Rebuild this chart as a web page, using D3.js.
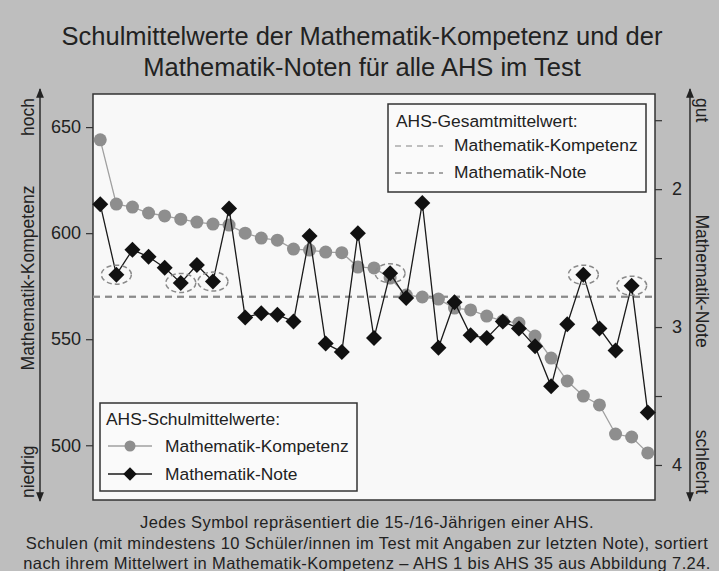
<!DOCTYPE html>
<html>
<head>
<meta charset="utf-8">
<script src="https://cdn.jsdelivr.net/npm/d3@7"></script>
<style>
  html, body { margin: 0; padding: 0; background: #c0c0c0; }
  svg { display: block; font-family: 'Liberation Sans', Arial, sans-serif; }
</style>
</head>
<body>
<div id="chart"></div>
<script>
// Schulmittelwerte je AHS (sortiert nach Mathematik-Kompetenz)
const kompetenz = [
  644, 613.7, 612.3, 609.5, 608.1, 606.6, 605.2, 604.3, 603.8, 600.0,
  597.7, 596.7, 592.5, 592.0, 591.1, 590.8, 584.0, 583.6, 578.8, 570.8,
  569.9, 568.9, 564.7, 563.8, 560.9, 558.6, 557.6, 551.5, 541.1, 530.3,
  523.2, 519.0, 505.3, 503.9, 496.4
];
const note = [
  2.11, 2.62, 2.44, 2.49, 2.57, 2.68, 2.55, 2.67, 2.14, 2.93,
  2.90, 2.91, 2.96, 2.34, 3.12, 3.18, 2.32, 3.08, 2.61, 2.79,
  2.10, 3.15, 2.82, 3.06, 3.08, 2.96, 3.01, 3.14, 3.43, 2.98,
  2.62, 3.01, 3.17, 2.70, 3.62
];
// AHS mit gestrichelter Markierung
const markiert = [2, 6, 8, 19, 31, 34];

const meanKompetenz = 570;
const meanNote = 2.78;

const leftTicks = [500, 550, 600, 650];
const rightTicks = [1.5, 2, 2.5, 3, 3.5, 4];

const titleLines = [
  'Schulmittelwerte der Mathematik-Kompetenz und der',
  'Mathematik-Noten für alle AHS im Test'
];
const footLines = [
  'Jedes Symbol repräsentiert die 15-/16-Jährigen einer AHS.',
  'Schulen (mit mindestens 10 Schüler/innen im Test mit Angaben zur letzten Note), sortiert',
  'nach ihrem Mittelwert in Mathematik-Kompetenz – AHS 1 bis AHS 35 aus Abbildung 7.24.'
];

const width = 719;
const height = 571;
const plot = { left: 93, right: 655, top: 94, bottom: 500 };
const ink = '#222';

const schools = kompetenz.map((_, i) => i + 1);

const x = d3.scaleLinear().domain([0.55, 35.45]).range([plot.left, plot.right]);
const yK = d3.scaleLinear().domain([474.2, 665.6]).range([plot.bottom, plot.top]);
const yN = d3.scaleLinear().domain([1.31, 4.254]).range([plot.top, plot.bottom]);

const svg = d3.select('#chart')
  .append('svg')
  .attr('width', width)
  .attr('height', height);

const defs = svg.append('defs');
defs.append('marker')
  .attr('id', 'arrow')
  .attr('viewBox', '0 0 10 10')
  .attr('refX', 9)
  .attr('refY', 5)
  .attr('markerWidth', 7)
  .attr('markerHeight', 7)
  .attr('orient', 'auto-start-reverse')
  .append('path')
  .attr('d', 'M0,1 L10,5 L0,9 Z')
  .attr('fill', ink);

svg.append('rect').attr('width', width).attr('height', height).attr('fill', '#bebebe');

// Titel
svg.append('g')
  .selectAll('text')
  .data(titleLines)
  .join('text')
  .attr('x', 362)
  .attr('y', (d, i) => 45 + i * 31)
  .attr('text-anchor', 'middle')
  .attr('font-size', 25.5)
  .attr('fill', ink)
  .text((d) => d);

// Plotfläche
svg.append('rect')
  .attr('x', plot.left)
  .attr('y', plot.top)
  .attr('width', plot.right - plot.left)
  .attr('height', plot.bottom - plot.top)
  .attr('fill', '#f8f8f8')
  .attr('stroke', '#333')
  .attr('stroke-width', 1.5);

// linke Achse
svg.append('g')
  .attr('transform', `translate(${plot.left},0)`)
  .call(d3.axisLeft(yK).tickValues(leftTicks).tickSize(7).tickPadding(5))
  .call((g) => g.select('.domain').remove())
  .call((g) => g.selectAll('line').attr('stroke', '#333').attr('stroke-width', 1.2))
  .call((g) => g.selectAll('text').attr('font-size', 18).attr('fill', ink).attr('font-family', null));

// rechte Achse
svg.append('g')
  .attr('transform', `translate(${plot.right},0)`)
  .call(d3.axisRight(yN).tickValues(rightTicks).tickSize(7).tickPadding(10)
    .tickFormat((d) => (Number.isInteger(d) ? d : '')))
  .call((g) => g.select('.domain').remove())
  .call((g) => g.selectAll('line').attr('stroke', '#333').attr('stroke-width', 1.2))
  .call((g) => g.selectAll('text').attr('font-size', 18).attr('fill', ink).attr('font-family', null));

// Pfeile und Achsenbeschriftungen
[40, 690].forEach((ax) => {
  svg.append('line')
    .attr('x1', ax).attr('x2', ax)
    .attr('y1', 89).attr('y2', 501)
    .attr('stroke', ink)
    .attr('stroke-width', 1.4)
    .attr('marker-start', 'url(#arrow)')
    .attr('marker-end', 'url(#arrow)');
});

const sideLabel = (tx, ty, rot, anchor, label) => svg.append('text')
  .attr('transform', `translate(${tx},${ty}) rotate(${rot})`)
  .attr('text-anchor', anchor)
  .attr('font-size', 17.5)
  .attr('fill', ink)
  .text(label);

sideLabel(34, 98, -90, 'end', 'hoch');
sideLabel(34, 278, -90, 'middle', 'Mathematik-Kompetenz');
sideLabel(34, 498, -90, 'start', 'niedrig');
sideLabel(696, 98, 90, 'start', 'gut');
sideLabel(696, 281, 90, 'middle', 'Mathematik-Note');
sideLabel(696, 494, 90, 'end', 'schlecht');

// Gesamtmittelwerte
svg.append('line')
  .attr('x1', plot.left).attr('x2', plot.right)
  .attr('y1', yK(meanKompetenz)).attr('y2', yK(meanKompetenz))
  .attr('stroke', '#aaa').attr('stroke-width', 2).attr('stroke-dasharray', '7,5');
svg.append('line')
  .attr('x1', plot.left).attr('x2', plot.right)
  .attr('y1', yN(meanNote)).attr('y2', yN(meanNote))
  .attr('stroke', '#8a8a8a').attr('stroke-width', 2).attr('stroke-dasharray', '7,5');

// Kompetenz: Linie und Kreise
svg.append('path')
  .datum(kompetenz)
  .attr('fill', 'none')
  .attr('stroke', '#a0a0a0')
  .attr('stroke-width', 1.3)
  .attr('d', d3.line().x((d, i) => x(schools[i])).y((d) => yK(d)));

svg.append('g')
  .selectAll('circle')
  .data(kompetenz)
  .join('circle')
  .attr('cx', (d, i) => x(schools[i]))
  .attr('cy', (d) => yK(d))
  .attr('r', 6.5)
  .attr('fill', '#8e8e8e');

// Noten: Linie und Rauten
svg.append('path')
  .datum(note)
  .attr('fill', 'none')
  .attr('stroke', '#1a1a1a')
  .attr('stroke-width', 1.3)
  .attr('d', d3.line().x((d, i) => x(schools[i])).y((d) => yN(d)));

const diamond = d3.symbol(d3.symbolSquare, 128);
svg.append('g')
  .selectAll('path')
  .data(note)
  .join('path')
  .attr('transform', (d, i) => `translate(${x(schools[i])},${yN(d)}) rotate(45)`)
  .attr('d', diamond)
  .attr('fill', '#111');

// markierte AHS
svg.append('g')
  .selectAll('ellipse')
  .data(markiert)
  .join('ellipse')
  .attr('cx', (d) => x(d))
  .attr('cy', (d) => yN(note[d - 1]))
  .attr('rx', 15)
  .attr('ry', 9.5)
  .attr('fill', 'none')
  .attr('stroke', '#8a8a8a')
  .attr('stroke-width', 1.5)
  .attr('stroke-dasharray', '5,3');

// Legende oben rechts
const legTop = svg.append('g');
legTop.append('rect')
  .attr('x', 388).attr('y', 104).attr('width', 258).attr('height', 88)
  .attr('fill', '#fafafa').attr('stroke', '#333').attr('stroke-width', 1.5);
legTop.append('text').attr('x', 396).attr('y', 127).attr('font-size', 17.4).attr('fill', ink)
  .text('AHS-Gesamtmittelwert:');
[['Mathematik-Kompetenz', '#aaa', 151], ['Mathematik-Note', '#8a8a8a', 178]].forEach(([label, col, yy]) => {
  legTop.append('line')
    .attr('x1', 395).attr('x2', 443).attr('y1', yy - 5).attr('y2', yy - 5)
    .attr('stroke', col).attr('stroke-width', 1.5).attr('stroke-dasharray', '6,5');
  legTop.append('text').attr('x', 454).attr('y', yy).attr('font-size', 17.4).attr('fill', ink).text(label);
});

// Legende unten links
const legBot = svg.append('g');
legBot.append('rect')
  .attr('x', 100).attr('y', 403).attr('width', 257).attr('height', 88)
  .attr('fill', '#fafafa').attr('stroke', '#333').attr('stroke-width', 1.5);
legBot.append('text').attr('x', 106).attr('y', 425).attr('font-size', 17.4).attr('fill', ink)
  .text('AHS-Schulmittelwerte:');
legBot.append('line').attr('x1', 108).attr('x2', 152).attr('y1', 446).attr('y2', 446)
  .attr('stroke', '#a0a0a0').attr('stroke-width', 1.3);
legBot.append('circle').attr('cx', 130).attr('cy', 446).attr('r', 5.5).attr('fill', '#8e8e8e');
legBot.append('text').attr('x', 165).attr('y', 452).attr('font-size', 17.4).attr('fill', ink)
  .text('Mathematik-Kompetenz');
legBot.append('line').attr('x1', 108).attr('x2', 152).attr('y1', 474).attr('y2', 474)
  .attr('stroke', '#1a1a1a').attr('stroke-width', 1.3);
legBot.append('path').attr('transform', 'translate(130,474) rotate(45)')
  .attr('d', d3.symbol(d3.symbolSquare, 90)).attr('fill', '#111');
legBot.append('text').attr('x', 165).attr('y', 480).attr('font-size', 17.4).attr('fill', ink)
  .text('Mathematik-Note');

// Fußnote
svg.append('g')
  .selectAll('text')
  .data(footLines)
  .join('text')
  .attr('x', 367)
  .attr('y', (d, i) => 528 + i * 20.5)
  .attr('text-anchor', 'middle')
  .attr('font-size', 16.5)
  .attr('letter-spacing', 0.4)
  .attr('fill', ink)
  .text((d) => d);
</script>
</body>
</html>
